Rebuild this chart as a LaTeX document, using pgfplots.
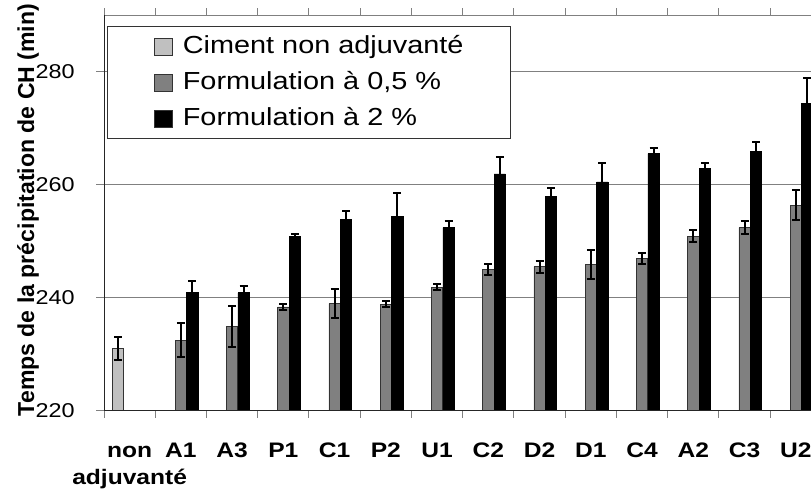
\documentclass[border=0pt]{standalone}
\usepackage{pgfplots}
\pgfplotsset{compat=1.18}
\usepackage{fontspec}
\setmainfont{Liberation Sans}
\definecolor{lg}{RGB}{192,192,192}
\definecolor{mg}{RGB}{128,128,128}
\pgfplotsset{sqleg/.style={legend image code/.code={\draw[##1, draw=black!80, line width=0.5pt] (0pt,-6.25pt) rectangle (13.5pt,6.25pt);}}}
\newcommand{\st}[1]{\scalebox{1.17}[1]{#1}}
\begin{document}
\begin{tikzpicture}
\useasboundingbox (0,0) rectangle (608.25pt,369pt);
\clip (0,0) rectangle (608.25pt,369pt);
\begin{axis}[
  at={(78pt,60.75pt)}, anchor=south west,
  scale only axis, width=538.1pt, height=297pt,
  xmin=-0.5, xmax=13.5, ymin=220, ymax=290,
  ybar, bar width=8.5pt,
  xtick={0,...,13},
  xticklabels={{non\\adjuvanté},{A1\\\mbox{}},{A3\\\mbox{}},{P1\\\mbox{}},{C1\\\mbox{}},{P2\\\mbox{}},{U1\\\mbox{}},{C2\\\mbox{}},{D2\\\mbox{}},{D1\\\mbox{}},{C4\\\mbox{}},{A2\\\mbox{}},{C3\\\mbox{}},{U2\\\mbox{}}},
  major x tick style={draw=none},
  minor xtick={-0.5,0.5,...,13.5},
  ytick={220,240,260,280},
  ymajorgrids, grid style={mg, line width=0.75pt},
  tick align=outside, major tick length=6pt, minor tick length=5.25pt,
  tick style={mg, line width=0.75pt},
  axis line style={mg, line width=0.75pt},
  /pgf/number format/assume math mode=true,
  yticklabel style={font=\fontsize{15}{18}\selectfont, anchor=east, inner sep=0pt, xshift=-15.75pt, xscale=1.17},
  xticklabel style={font=\bfseries\fontsize{15.75}{20.25}\selectfont, align=center, anchor=base, inner sep=0pt, yshift=-49.25pt, xscale=1.17},
  legend style={at={(0.0042,0.972)}, anchor=north west, draw=black!80, line width=0.75pt,
    inner xsep=35pt, inner ysep=5pt, row sep=7pt,
    font=\fontsize{18.5}{22}\selectfont,
    nodes={inner sep=0pt, text height=15pt, text depth=5pt},
    /tikz/every odd column/.append style={column sep=7.5pt}},
  legend cell align=left,
  error bars/error bar style={black, line width=1.5pt},
  error bars/error mark options={rotate=90, black, mark size=3pt, line width=1.5pt},
]
\addplot[fill=lg, draw=black!80, line width=0.5pt, bar shift=-8.6pt, sqleg,
  error bars/.cd, y dir=both, y explicit]
  table[x=x, y=y, y error=e] {
x y e
0 231 2
};
\addlegendentry{\st{Ciment non adjuvanté}}
\addplot[fill=mg, draw=black!80, line width=0.5pt, bar shift=0pt, sqleg,
  error bars/.cd, y dir=both, y explicit]
  table[x=x, y=y, y error=e] {
x y e
1 232.5 3.0
2 235.0 3.6
3 238.4 0.6
4 239.0 2.5
5 238.9 0.5
6 241.9 0.5
7 245.0 0.9
8 245.5 1.1
9 245.9 2.6
10 246.9 1.0
11 250.9 1.1
12 252.4 1.1
13 256.4 2.6
};
\addlegendentry{\st{Formulation à 0,5 \%}}
\addplot[fill=black, draw=black, line width=0.5pt, bar shift=8.6pt, sqleg,
  error bars/.cd, y dir=both, y explicit]
  table[x=x, y=y, y error=e] {
x y e
1 240.9 2.0
2 240.9 1.2
3 250.9 0.4
4 253.9 1.5
5 254.4 4.1
6 252.4 1.1
7 261.9 3.0
8 257.9 1.5
9 260.5 3.4
10 265.5 1.0
11 262.9 1.0
12 265.9 1.6
13 274.4 4.5
};
\addlegendentry{\st{Formulation à 2 \%}}
\draw[black!85, line width=0.75pt] (rel axis cs:0,1) -- (rel axis cs:0,0) -- (rel axis cs:1,0);
\end{axis}
\node[rotate=90, font=\bfseries\fontsize{17.3}{21}\selectfont] at (21pt,211.5pt) {Temps de la précipitation de CH (min)};
\end{tikzpicture}
\end{document}
